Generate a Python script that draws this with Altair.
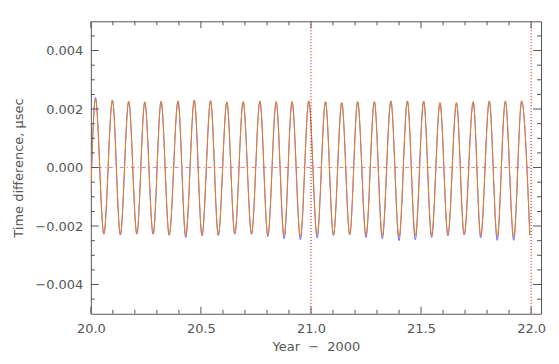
import altair as alt
import pandas as pd

# ---- data ----
start_year = 20.0
orange_start = -0.0008
blue_start = -0.0009

peak_years = [20.021, 20.098, 20.172, 20.245, 20.319, 20.396, 20.470, 20.544, 20.618,
              20.692, 20.768, 20.842, 20.914, 20.990, 21.066, 21.140, 21.212, 21.288,
              21.363, 21.438, 21.512, 21.586, 21.661, 21.737, 21.810, 21.883, 21.957]
trough_years = [20.059, 20.134, 20.209, 20.283, 20.356, 20.431, 20.505, 20.579, 20.654,
                20.730, 20.804, 20.878, 20.952, 21.028, 21.102, 21.176, 21.250, 21.324,
                21.400, 21.474, 21.548, 21.622, 21.696, 21.771, 21.846, 21.921, 21.994]

orange_peaks = [0.00234, 0.00231, 0.00227, 0.00225, 0.00227, 0.00228, 0.00231, 0.00229, 0.00225,
                0.00226, 0.00228, 0.00226, 0.00226, 0.00228, 0.00226, 0.00223, 0.00226, 0.00226,
                0.00228, 0.00228, 0.00228, 0.00223, 0.00223, 0.00226, 0.00228, 0.00228, 0.00228]
blue_peaks = [0.00240, 0.00229, 0.00225, 0.00223, 0.00225, 0.00226, 0.00229, 0.00227, 0.00223,
              0.00224, 0.00226, 0.00224, 0.00224, 0.00226, 0.00224, 0.00221, 0.00224, 0.00224,
              0.00226, 0.00226, 0.00226, 0.00219, 0.00219, 0.00222, 0.00226, 0.00226, 0.00226]
orange_troughs = [-0.00227, -0.00228, -0.00227, -0.00227, -0.00230, -0.00230, -0.00229, -0.00230, -0.00227,
                  -0.00227, -0.00230, -0.00232, -0.00236, -0.00230, -0.00230, -0.00229, -0.00230, -0.00232,
                  -0.00236, -0.00232, -0.00230, -0.00229, -0.00230, -0.00232, -0.00236, -0.00236, -0.00230]
blue_troughs = [-0.00228, -0.00231, -0.00228, -0.00228, -0.00232, -0.00240, -0.00234, -0.00233, -0.00228,
                -0.00228, -0.00236, -0.00244, -0.00247, -0.00241, -0.00232, -0.00230, -0.00239, -0.00244,
                -0.00250, -0.00247, -0.00239, -0.00234, -0.00231, -0.00241, -0.00249, -0.00249, -0.00231]

year_lines = [21.0, 22.0]
x_major = [20.0, 20.5, 21.0, 21.5, 22.0]
x_minor = [20.1, 20.2, 20.3, 20.4, 20.6, 20.7, 20.8, 20.9, 21.1, 21.2, 21.3, 21.4,
           21.6, 21.7, 21.8, 21.9]
y_major = [-0.004, -0.002, 0.0, 0.002, 0.004]
y_minor = [-0.0045, -0.0035, -0.003, -0.0025, -0.0015, -0.001, -0.0005,
           0.0005, 0.001, 0.0015, 0.0025, 0.003, 0.0035, 0.0045]

# ---- build tables ----
def series(name, peaks, troughs, start):
    rows = [(start_year, start)]
    rows += list(zip(peak_years, peaks)) + list(zip(trough_years, troughs))
    rows.sort()
    return pd.DataFrame({"year": [r[0] for r in rows], "val": [r[1] for r in rows], "s": name})

blue_df = series("blue", blue_peaks, blue_troughs, blue_start)
orange_df = series("orange", orange_peaks, orange_troughs, orange_start)

W, H = 451, 293
xs = alt.Scale(domain=[20.0, 22.045], nice=False, zero=False)
ys = alt.Scale(domain=[-0.005, 0.005], nice=False, zero=False)
FONT = "DejaVu Sans"
TXT = "#555555"
AX = "#555555"

x_enc = alt.X("year:Q", scale=xs, axis=alt.Axis(
    title="Year\u00a0\u00a0\u2212\u00a0\u00a02000", values=x_major, format=".1f",
    ticks=False, grid=False, domain=False, labelPadding=9, titlePadding=5,
    labelFlush=False, labelOverlap=False,
    labelFont=FONT, titleFont=FONT, labelFontSize=13, titleFontSize=13,
    labelColor=TXT, titleColor=TXT, titleFontWeight="normal"))
y_enc = alt.Y("val:Q", scale=ys, axis=alt.Axis(
    title="Time difference, \u03bcsec", values=y_major, format=".3f",
    ticks=False, grid=False, domain=False, labelPadding=8, titlePadding=9,
    labelFlush=False, labelOverlap=False,
    labelFont=FONT, titleFont=FONT, labelFontSize=13, titleFontSize=13,
    labelColor=TXT, titleColor=TXT, titleFontWeight="normal"))

zero_line = alt.Chart(pd.DataFrame({"val": [0.0]})).mark_rule(
    color="#f08080", strokeDash=[4, 3, 1, 3], strokeWidth=1).encode(
    y=alt.Y("val:Q", scale=ys))

blue_line = alt.Chart(blue_df).mark_line(
    color="#6b6bff", strokeWidth=1, interpolate="monotone", clip=True).encode(x=x_enc, y=y_enc)
orange_line = alt.Chart(orange_df).mark_line(
    color="#e8821e", strokeWidth=1, interpolate="monotone", clip=True).encode(
    x=alt.X("year:Q", scale=xs), y=alt.Y("val:Q", scale=ys))

vlines = alt.Chart(pd.DataFrame({"year": year_lines})).mark_rule(
    color="#e02828", strokeDash=[1, 2], strokeWidth=1.2).encode(
    x=alt.X("year:Q", scale=xs))

def xticks(vals, length):
    d = pd.DataFrame({"year": vals})
    bot = alt.Chart(d).mark_rule(color=AX, strokeWidth=1).encode(
        x=alt.X("year:Q", scale=xs), y=alt.value(H), y2=alt.value(H - length))
    top = alt.Chart(d).mark_rule(color=AX, strokeWidth=1).encode(
        x=alt.X("year:Q", scale=xs), y=alt.value(0), y2=alt.value(length))
    return [bot, top]

def yticks(vals, length):
    d = pd.DataFrame({"val": vals})
    left = alt.Chart(d).mark_rule(color=AX, strokeWidth=1).encode(
        y=alt.Y("val:Q", scale=ys), x=alt.value(0), x2=alt.value(length))
    right = alt.Chart(d).mark_rule(color=AX, strokeWidth=1).encode(
        y=alt.Y("val:Q", scale=ys), x=alt.value(W), x2=alt.value(W - length))
    return [left, right]

layers = [zero_line, blue_line, orange_line, vlines]
layers += xticks(x_major, 7) + xticks(x_minor, 4) + yticks(y_major, 8) + yticks(y_minor, 4)

chart = alt.layer(*layers).properties(
    width=W, height=H,
    autosize=alt.AutoSizeParams(type="none"),
    padding={"left": 83, "top": 13, "right": 10, "bottom": 45},
    background="white",
).configure_view(stroke=AX, strokeWidth=1)

chart.save("out.html", embed_options={"renderer": "svg", "actions": False})
